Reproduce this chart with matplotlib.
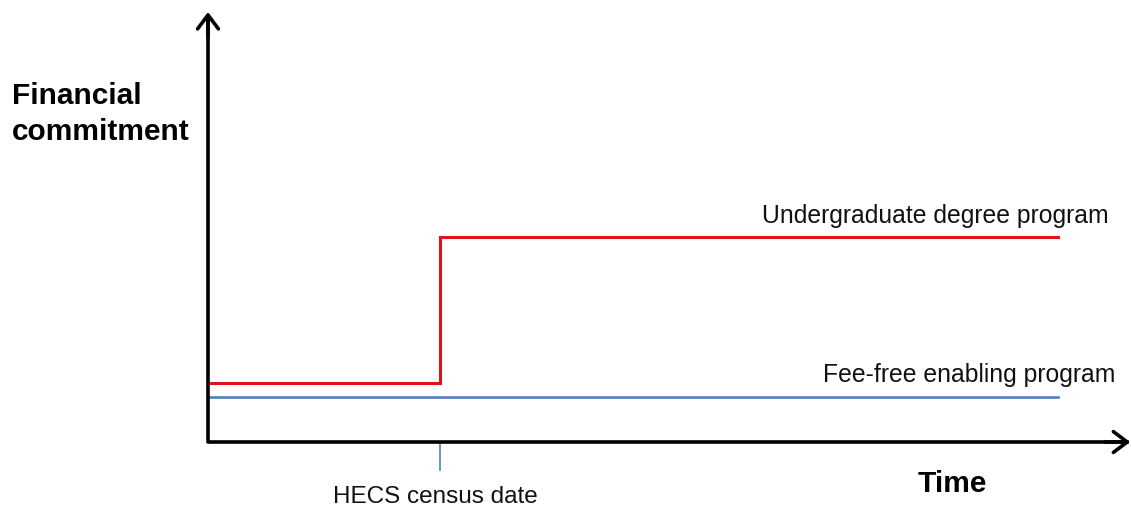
import matplotlib
matplotlib.use("Agg")
import matplotlib.pyplot as plt

plt.rcParams['font.family'] = ['Liberation Sans', 'DejaVu Sans']

# ---- data (abstract units) ----
time_points = [0.0, 2.73, 10.0]          # start, HECS census date, end of program
undergrad_before = 1.37                  # commitment before census date
undergrad_after = 4.77                   # commitment after census date
enabling_level = 1.05                    # fee-free enabling program
census_date = 2.73
x_axis_end = 10.85
y_axis_end = 10.0

series_labels = ["Undergraduate degree program", "Fee-free enabling program"]
x_label = "Time"
y_label = "Financial\ncommitment"
census_label = "HECS census date"

RED = "#E01219"
BLUE = "#4F81BD"

W, H = 1132, 508
fig = plt.figure(figsize=(W / 100, H / 100), dpi=100)
ox, oy = 208, 442
ax = fig.add_axes([ox / W, (H - oy) / H, (W - ox) / W, oy / H])
ax.set_xlim(0, (W - ox) / 85)
ax.set_ylim(0, oy / 43)
ax.axis('off')

# undergraduate step line
ax.plot([time_points[0], time_points[1], time_points[1], time_points[2]],
        [undergrad_before, undergrad_before, undergrad_after, undergrad_after],
        color=RED, lw=2.2, solid_joinstyle='miter', clip_on=False, zorder=3)
# enabling program line
ax.plot([time_points[0], time_points[2]], [enabling_level, enabling_level],
        color=BLUE, lw=1.9, clip_on=False, zorder=2)

# census tick
ax.plot([census_date, census_date], [0, -0.65], color=BLUE, lw=1.2, clip_on=False)

# axes: one polyline with a rounded corner, plus arrow heads
ax.plot([0, 0, x_axis_end - 0.02], [y_axis_end - 0.05, 0, 0], color='black', lw=2.6,
        solid_joinstyle='round', solid_capstyle='butt', snap=False,
        clip_on=False, zorder=4)
arrow_kw = dict(arrowstyle='->, head_length=0.4, head_width=0.3', lw=2.6,
                color='black', mutation_scale=25, shrinkA=0, shrinkB=0, snap=False)
ax.annotate('', xy=(x_axis_end, 0), xytext=(x_axis_end - 0.3, 0), arrowprops=arrow_kw,
            annotation_clip=False)
ax.annotate('', xy=(0, y_axis_end), xytext=(0, y_axis_end - 0.6), arrowprops=arrow_kw,
            annotation_clip=False)

# labels
ax.text(10.59, 5.09, series_labels[0], ha='right', va='baseline',
        fontsize=17.8, color='#111111', clip_on=False)
ax.text(10.67, 1.40, series_labels[1], ha='right', va='baseline',
        fontsize=17.8, color='#111111', clip_on=False)
ax.text(2.67, -1.42, census_label, ha='center', va='baseline',
        fontsize=17.5, color='#111111', clip_on=False)
ax.text(8.35, -1.16, x_label, ha='left', va='baseline',
        fontsize=21.5, fontweight='bold', color='black', clip_on=False)
ax.text(-2.31, 7.02, y_label, ha='left', va='baseline', linespacing=1.38,
        fontsize=21.5, fontweight='bold', color='black', clip_on=False)

fig.savefig("out.png", dpi=100, facecolor='white')
